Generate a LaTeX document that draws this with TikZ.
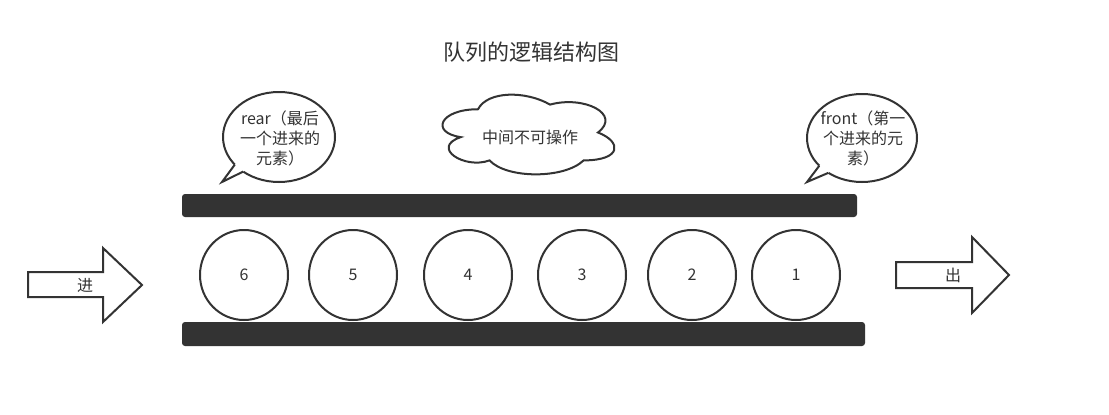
\documentclass[tikz,border=0pt]{standalone}
\usepackage{fontspec}
\setmainfont{Noto Sans CJK SC}
\usetikzlibrary{shapes.geometric,calc}
\definecolor{ink}{HTML}{333333}
\begin{document}
\begin{tikzpicture}[x=1pt,y=-1pt,
  lbl/.style={text=ink, font=\fontsize{16}{20}\selectfont, inner sep=0pt, align=center},
  ball/.style={ellipse, draw=ink, line width=2pt, fill=white, minimum width=88pt, minimum height=90pt, inner sep=0pt, outer sep=0pt, text=ink, font=\fontsize{16}{18}\selectfont},
  bar/.style={fill=ink, rounded corners=3pt},
  bubble/.style={ellipse, draw=ink, line width=2pt, fill=white, minimum width=112pt, minimum height=90pt, inner sep=0pt, outer sep=0pt},
  outline/.style={draw=ink, line width=2pt, line join=miter, fill=white},
  tail/.style={draw=ink, line width=2pt, line join=miter}]
\fill[white] (0,0) rectangle (1109,415);
\useasboundingbox (0,0) rectangle (1109,415);

% title
\node[text=ink, font=\fontsize{22}{26}\selectfont, inner sep=0pt] (title) at (531,52) {队列的逻辑结构图};

% bars
\fill[bar] (182,194) rectangle (857,217);
\fill[bar] (182,322) rectangle (865,346);

% balls
\node[ball] (c6) at (244,275) {6};
\node[ball] (c5) at (353,275) {5};
\node[ball] (c4) at (468,275) {4};
\node[ball] (c3) at (582,275) {3};
\node[ball] (c2) at (692,275) {2};
\node[ball] (c1) at (796,275) {1};

% arrows
\draw[outline] (28,272) -- (103,272) -- (103,248) -- (142,285) -- (103,322) -- (103,297) -- (28,297) -- cycle;
\node[lbl] (in) at (85,285) {进};
\draw[outline] (896,262) -- (972,262) -- (972,237) -- (1009,275) -- (972,313) -- (972,288) -- (896,288) -- cycle;
\node[lbl] (out) at (953,275) {出};

% rear bubble
\node[bubble] (rear) at (279,137) {};
\coordinate (reartip) at (222,182);
\fill[white] (rear.212) -- (reartip) -- (rear.224) -- ($(rear.224)!4pt!(rear.center)$) -- ($(rear.212)!4pt!(rear.center)$) -- cycle;
\draw[tail] (rear.212) -- (reartip) -- (rear.224);
\node[lbl] (reartxt) at (280,138) {rear（最后\\一个进来的\\元素）};

% front bubble
\node[bubble, minimum width=110pt, minimum height=88pt] (front) at (862,138) {};
\coordinate (fronttip) at (807,182);
\fill[white] (front.213) -- (fronttip) -- (front.226) -- ($(front.226)!4pt!(front.center)$) -- ($(front.213)!4pt!(front.center)$) -- cycle;
\draw[tail] (front.213) -- (fronttip) -- (front.226);
\node[lbl] (fronttxt) at (863,138) {front（第一\\个进来的元\\素）};

% cloud
\begin{scope}[shift={(430,86)}, x=192pt, y=-93pt]
\draw[outline] (0.25,0.25) .. controls (0.05,0.25) and (0,0.5) .. (0.16,0.55)
  .. controls (0,0.66) and (0.18,0.9) .. (0.31,0.8)
  .. controls (0.4,1) and (0.7,1) .. (0.8,0.8)
  .. controls (1,0.8) and (1,0.6) .. (0.875,0.5)
  .. controls (1,0.3) and (0.8,0.1) .. (0.625,0.2)
  .. controls (0.5,0.05) and (0.3,0.05) .. (0.25,0.25) -- cycle;
\end{scope}
\node[lbl] (mid) at (530,137) {中间不可操作};
\end{tikzpicture}
\end{document}
